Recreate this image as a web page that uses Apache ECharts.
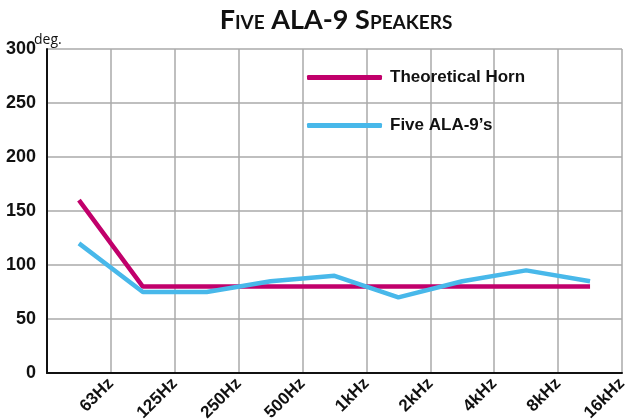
<!DOCTYPE html>
<html>
<head>
<meta charset="utf-8">
<script src="https://cdn.jsdelivr.net/npm/echarts@6/dist/echarts.min.js"></script>
<style>html,body{margin:0;padding:0;background:#fff}#c{width:628px;height:420px}</style>
</head>
<body>
<div id="c"></div>
<script>
const categories = ['63Hz', '125Hz', '250Hz', '500Hz', '1kHz', '2kHz', '4kHz', '8kHz', '16kHz'];
const theoreticalHorn = [160, 80, 80, 80, 80, 80, 80, 80, 80];
const fiveALA9 = [120, 75, 75, 85, 90, 70, 85, 95, 85];
const seriesNames = ['Theoretical Horn', 'Five ALA-9\u2019s'];
const yMin = 0, yMax = 300, yStep = 50;

const sans = "'Liberation Sans', Arial, sans-serif";
const chart = echarts.init(document.getElementById('c'), null, {renderer: 'canvas'});
chart.setOption({
  animation: false,
  backgroundColor: '#fff',
  title: {
    text: 'Five ALA-9 Speakers',
    left: 331,
    textAlign: 'center',
    top: 2,
    textStyle: {fontFamily: 'Lato, sans-serif', fontStyle: 'small-caps', fontWeight: 'bold', fontSize: 27, color: '#111'}
  },
  legend: {
    data: seriesNames,
    orient: 'vertical',
    left: 307,
    top: 69,
    padding: 0,
    itemWidth: 75,
    itemHeight: 5,
    itemGap: 31,
    icon: 'roundRect',
    textStyle: {fontFamily: sans, fontWeight: 'bold', fontSize: 17, color: '#111', padding: [0, 0, 0, 3]}
  },
  grid: {left: 47, right: 6, top: 49, bottom: 47, containLabel: false, outerBoundsMode: 'none'},
  xAxis: [
    {
      type: 'category',
      data: categories,
      boundaryGap: true,
      axisLine: {show: true, lineStyle: {color: '#111', width: 2}},
      axisTick: {show: false},
      axisLabel: {show: false},
      splitLine: {show: false}
    },
    {
      type: 'value',
      min: 0,
      max: categories.length,
      interval: 1,
      position: 'bottom',
      axisLine: {show: false},
      axisTick: {show: false},
      splitLine: {show: true, lineStyle: {color: '#aaa', width: 1.5}},
      axisLabel: {
        rotate: 45,
        margin: 8,
        fontFamily: sans,
        fontWeight: 'bold',
        fontSize: 17,
        color: '#111',
        formatter: function (v) { return v >= 1 ? categories[v - 1] : ''; }
      }
    }
  ],
  yAxis: {
    type: 'value',
    min: yMin,
    max: yMax,
    interval: yStep,
    name: 'deg.',
    nameLocation: 'end',
    nameGap: 2,
    nameMoveOverlap: false,
    nameTextStyle: {fontFamily: "'Open Sans', sans-serif", fontSize: 14, color: '#111', align: 'left', verticalAlign: 'bottom', padding: [0, 0, 0, -13]},
    axisLine: {show: true, lineStyle: {color: '#111', width: 2}},
    axisTick: {show: false},
    splitLine: {show: true, lineStyle: {color: '#aaa', width: 1.5}},
    axisLabel: {margin: 11, fontFamily: sans, fontWeight: 'bold', fontSize: 18, color: '#111'}
  },
  series: [
    {
      name: seriesNames[0],
      type: 'line',
      xAxisIndex: 0,
      data: theoreticalHorn,
      symbol: 'none',
      color: '#c1006b',
      lineStyle: {color: '#c1006b', width: 4.5}
    },
    {
      name: seriesNames[1],
      type: 'line',
      xAxisIndex: 0,
      data: fiveALA9,
      symbol: 'none',
      color: '#48b8ea',
      lineStyle: {color: '#48b8ea', width: 4.5}
    }
  ]
});
</script>
</body>
</html>
